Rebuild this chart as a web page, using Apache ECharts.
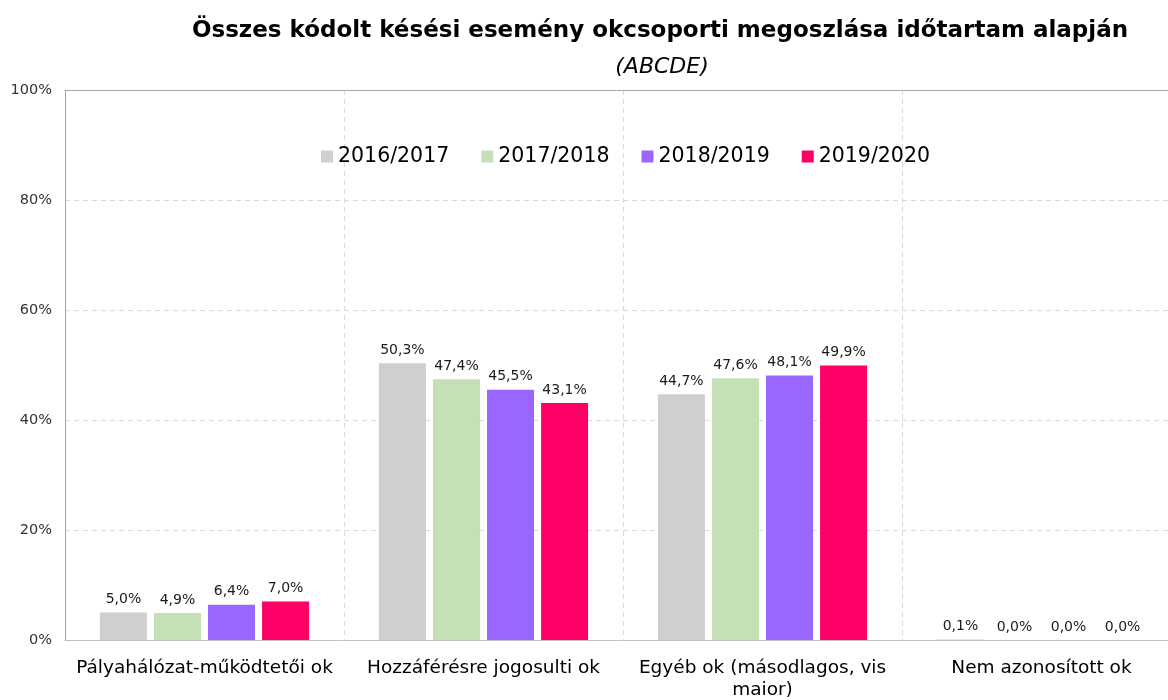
<!DOCTYPE html>
<html>
<head>
<meta charset="utf-8">
<script src="https://cdn.jsdelivr.net/npm/echarts@6/dist/echarts.min.js"></script>
<style>
  html, body { margin: 0; padding: 0; background: #fff; }
  #chart { width: 1168px; height: 700px; }
</style>
</head>
<body>
<div id="chart"></div>
<script>
// categories (okcsoportok)
var categories = ['Pályahálózat-működtetői ok', 'Hozzáférésre jogosulti ok', 'Egyéb ok (másodlagos, vis maior)', 'Nem azonosított ok']
var years = ['2016/2017', '2017/2018', '2018/2019', '2019/2020']
var y2016 = [5.0, 50.3, 44.7, 0.1]
var y2017 = [4.9, 47.4, 47.6, 0.0]
var y2018 = [6.4, 45.5, 48.1, 0.0]
var y2019 = [7.0, 43.1, 49.9, 0.0]
var colors = ['#d0cece', '#c5e0b4', '#9966ff', '#ff0066']

var font = 'DejaVu Sans'
var chart = echarts.init(document.getElementById('chart'))

function makeSeries(name, data, color) {
  return {
    name: name,
    type: 'bar',
    data: data,
    barWidth: 47,
    barGap: '15%',
    itemStyle: { color: color },
    label: {
      show: true,
      position: 'top',
      distance: 6,
      fontFamily: font,
      fontSize: 14,
      color: '#1a1a1a',
      formatter: function (p) { return p.value.toFixed(1).replace('.', ',') + '%' }
    }
  }
}

chart.setOption({
  animation: false,
  title: [{
    text: 'Összes kódolt késési esemény okcsoporti megoszlása időtartam alapján',
    left: 655, top: 15, textAlign: 'center',
    textStyle: { fontFamily: font, fontSize: 23, fontWeight: 'bold', color: '#000' }
  }, {
    text: '(ABCDE)',
    left: 657, top: 51, textAlign: 'center',
    textStyle: { fontFamily: font, fontSize: 22, fontStyle: 'italic', fontWeight: 'normal', color: '#000' }
  }],
  legend: {
    data: years,
    top: 141,
    left: 316,
    itemWidth: 12,
    itemHeight: 12,
    itemGap: 32,
    icon: 'rect',
    textStyle: { fontFamily: font, fontSize: 20.5, color: '#000' }
  },
  grid: {
    left: 65, top: 90, width: 1116, height: 550,
    outerBoundsMode: 'none',
    containLabel: false
  },
  xAxis: [{
    type: 'category',
    data: categories,
    axisTick: { show: false },
    axisLine: { lineStyle: { color: '#bfbfbf' } },
    splitLine: {
      show: true,
      lineStyle: { color: ['transparent', '#d9d9d9', '#d9d9d9', '#d9d9d9', 'transparent'], type: [5, 4] }
    },
    axisLabel: {
      interval: 0,
      margin: 17,
      fontFamily: font,
      fontSize: 18.5,
      color: '#000',
      lineHeight: 22,
      formatter: function (v) { return v.replace(' maior)', '\nmaior)') }
    }
  }, {
    // top border of the plot
    type: 'category',
    position: 'top',
    data: categories,
    axisTick: { show: false },
    axisLabel: { show: false },
    splitLine: { show: false },
    axisLine: { lineStyle: { color: '#a6a6a6' } }
  }],
  yAxis: {
    type: 'value',
    min: 0, max: 100, interval: 20,
    axisLine: { show: true, lineStyle: { color: '#a6a6a6' } },
    axisTick: { show: false },
    splitLine: { lineStyle: { color: ['transparent', '#d9d9d9', '#d9d9d9', '#d9d9d9', '#d9d9d9', 'transparent'], type: [5, 4] } },
    axisLabel: {
      margin: 13,
      fontFamily: font,
      fontSize: 14.5,
      color: '#333',
      formatter: '{value}%'
    }
  },
  series: [
    makeSeries(years[0], y2016, colors[0]),
    makeSeries(years[1], y2017, colors[1]),
    makeSeries(years[2], y2018, colors[2]),
    makeSeries(years[3], y2019, colors[3])
  ]
})
</script>
</body>
</html>
